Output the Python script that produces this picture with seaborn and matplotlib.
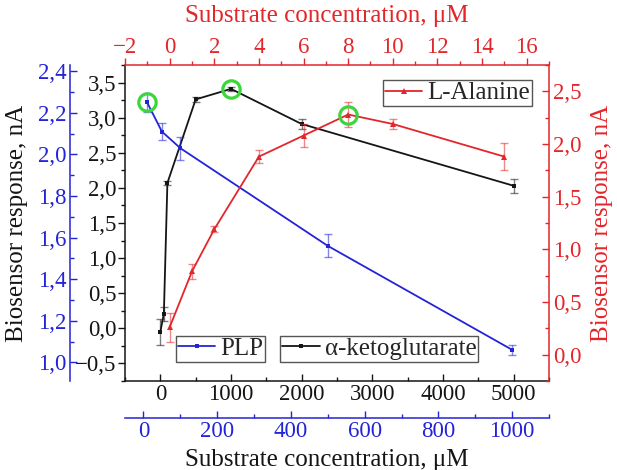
import numpy as np
import pandas as pd
import matplotlib
matplotlib.use("Agg")
import matplotlib.pyplot as plt
import seaborn as sns
from matplotlib.ticker import MultipleLocator, FuncFormatter

# ---------------- data ----------------
plp_conc = [10, 50, 100, 500, 1000]
plp_resp = [2.25, 2.11, 2.03, 1.56, 1.06]
plp_err = [0.045, 0.04, 0.055, 0.055, 0.025]

akg_conc = [0, 50, 100, 500, 1000, 2000, 5000]
akg_resp = [-0.05, 0.21, 2.07, 3.26, 3.41, 2.91, 2.03]
akg_err = [0.19, 0.10, 0.03, 0.03, 0.03, 0.07, 0.10]

ala_conc = [0, 1, 2, 4, 6, 8, 10, 15]
ala_resp = [0.26, 0.79, 1.19, 1.88, 2.08, 2.28, 2.19, 1.88]
ala_err = [0.14, 0.07, 0.03, 0.06, 0.11, 0.12, 0.05, 0.13]

plp_opt = 0
akg_opt = 4
ala_opt = 5

series_names = ["PLP", "α-ketoglutarate", "L-Alanine"]
axis_label_x = "Substrate concentration, μM"
axis_label_y = "Biosensor response, nA"

# ---------------- style ----------------
sns.set_style("ticks")
plt.rcParams["font.family"] = ["Liberation Serif", "DejaVu Serif"]
plt.rcParams["axes.unicode_minus"] = True

BLUE = "#2323d8"
RED = "#e3262b"
BLACK = "#151515"
GREEN = "#3cd63c"
TICK = 16.5
LABEL = 18
LEG = 18

W, H = 617, 470
fig = plt.figure(figsize=(W / 100, H / 100), dpi=100)
pos = [125 / W, 1 - 381 / H, 424 / W, 316 / H]

ax = fig.add_axes(pos)          # black: bottom / left
axb = fig.add_axes(pos)         # blue: offset bottom / offset left
axr = fig.add_axes(pos)         # red: top / right
for a in (axb, axr):
    a.patch.set_visible(False)

def comma(fmt):
    return FuncFormatter(lambda v, p: (fmt % v).replace(".", ",").replace("-", "\u2212"))

px = 0.72  # points per pixel

# ---- black axes ----
df_akg = pd.DataFrame({"conc": akg_conc, "resp": akg_resp})
sns.lineplot(data=df_akg, x="conc", y="resp", ax=ax, color=BLACK, marker="s",
             markersize=3.5, markeredgewidth=0, linewidth=1.3, errorbar=None,
             sort=False, legend=False)
akg_line = ax.lines[-1]
ax.errorbar(akg_conc, akg_resp, yerr=akg_err, fmt="none", ecolor=BLACK, alpha=0.55,
            elinewidth=1, capsize=2.8, capthick=1)
ax.plot(akg_conc[akg_opt], akg_resp[akg_opt], "o", ms=12.5, mfc="none", mec=GREEN,
        mew=2.3, clip_on=False, zorder=5)
ax.set_xlim(-500, 5500)
ax.set_ylim(-0.75, 3.75)
ax.xaxis.set_major_locator(MultipleLocator(1000))
ax.xaxis.set_minor_locator(MultipleLocator(500))
ax.yaxis.set_major_locator(MultipleLocator(0.5))
ax.yaxis.set_minor_locator(MultipleLocator(0.25))
ax.yaxis.set_major_formatter(comma("%.1f"))
ax.xaxis.set_major_formatter(comma("%d"))
ax.spines["top"].set_visible(False)
ax.spines["right"].set_visible(False)
for s in ("left", "bottom"):
    ax.spines[s].set_color(BLACK)
    ax.spines[s].set_linewidth(1.1)
ax.tick_params(axis="y", which="both", direction="out", left=True, right=False,
               colors=BLACK, labelsize=TICK, pad=1, width=1)
ax.tick_params(axis="y", which="major", length=5)
ax.tick_params(axis="y", which="minor", length=3)
ax.tick_params(axis="x", which="both", direction="in", bottom=True, top=False,
               colors=BLACK, labelsize=TICK, pad=2.5, width=1)
ax.tick_params(axis="x", which="major", length=5)
ax.tick_params(axis="x", which="minor", length=3)
ax.set_xlabel(axis_label_x, fontsize=LABEL, color=BLACK)
ax.set_ylabel(axis_label_y, fontsize=LABEL, color=BLACK)
ax.xaxis.set_label_coords(0.475, -0.215)
ax.yaxis.set_label_coords(-0.228, 0.5)

# ---- blue axes ----
df_plp = pd.DataFrame({"conc": plp_conc, "resp": plp_resp})
sns.lineplot(data=df_plp, x="conc", y="resp", ax=axb, color=BLUE, marker="s",
             markersize=3.5, markeredgewidth=0, linewidth=1.3, errorbar=None,
             sort=False, legend=False)
plp_line = axb.lines[-1]
axb.errorbar(plp_conc, plp_resp, yerr=plp_err, fmt="none", ecolor=BLUE, alpha=0.55,
             elinewidth=1, capsize=2.8, capthick=1)
axb.plot(plp_conc[plp_opt], plp_resp[plp_opt], "o", ms=12.5, mfc="none", mec=GREEN,
         mew=2.3, clip_on=False, zorder=5)
axb.set_xlim(-50, 1100)
axb.set_ylim(0.91, 2.43)
axb.xaxis.set_major_locator(MultipleLocator(200))
axb.xaxis.set_minor_locator(MultipleLocator(100))
axb.yaxis.set_major_locator(MultipleLocator(0.2))
axb.yaxis.set_minor_locator(MultipleLocator(0.1))
axb.yaxis.set_major_formatter(comma("%.1f"))
axb.xaxis.set_major_formatter(comma("%d"))
axb.spines["top"].set_visible(False)
axb.spines["right"].set_visible(False)
axb.spines["left"].set_position(("outward", 55 * px))
axb.spines["bottom"].set_position(("outward", 37 * px))
for s in ("left", "bottom"):
    axb.spines[s].set_color(BLUE)
    axb.spines[s].set_linewidth(1.1)
axb.tick_params(axis="y", which="both", direction="in", left=True, right=False,
                colors=BLUE, labelcolor=BLUE, labelsize=TICK, pad=2.5, width=1)
axb.tick_params(axis="y", which="major", length=5)
axb.tick_params(axis="y", which="minor", length=3)
axb.tick_params(axis="x", which="both", direction="in", bottom=True, top=False,
                colors=BLUE, labelcolor=BLUE, labelsize=TICK, pad=2, width=1)
axb.tick_params(axis="x", which="major", length=5)
axb.tick_params(axis="x", which="minor", length=3)
axb.set_xlabel("")
axb.set_ylabel("")

# ---- red axes ----
df_ala = pd.DataFrame({"conc": ala_conc, "resp": ala_resp})
sns.lineplot(data=df_ala, x="conc", y="resp", ax=axr, color=RED, marker="^",
             markersize=4.5, markeredgewidth=0, linewidth=1.3, errorbar=None,
             sort=False, legend=False)
ala_line = axr.lines[-1]
axr.errorbar(ala_conc, ala_resp, yerr=ala_err, fmt="none", ecolor=RED, alpha=0.55,
             elinewidth=1, capsize=2.8, capthick=1)
axr.plot(ala_conc[ala_opt], ala_resp[ala_opt], "o", ms=12.5, mfc="none", mec=GREEN,
         mew=2.3, clip_on=False, zorder=5)
axr.set_xlim(-2, 17)
axr.set_ylim(-0.25, 2.75)
axr.xaxis.tick_top()
axr.yaxis.tick_right()
axr.xaxis.set_label_position("top")
axr.yaxis.set_label_position("right")
axr.xaxis.set_major_locator(MultipleLocator(2))
axr.xaxis.set_minor_locator(MultipleLocator(1))
axr.yaxis.set_major_locator(MultipleLocator(0.5))
axr.yaxis.set_minor_locator(MultipleLocator(0.25))
axr.yaxis.set_major_formatter(comma("%.1f"))
axr.xaxis.set_major_formatter(comma("%d"))
axr.spines["left"].set_visible(False)
axr.spines["bottom"].set_visible(False)
for s in ("top", "right"):
    axr.spines[s].set_color(RED)
    axr.spines[s].set_linewidth(1.1)
axr.tick_params(axis="x", which="both", direction="out", top=True, bottom=False,
                colors=RED, labelcolor=RED, labelsize=TICK, pad=0, width=1)
axr.tick_params(axis="x", which="major", length=5)
axr.tick_params(axis="x", which="minor", length=3)
axr.tick_params(axis="y", which="both", direction="in", right=True, left=False,
                colors=RED, labelcolor=RED, labelsize=TICK, pad=3, width=1)
axr.tick_params(axis="y", which="major", length=5)
axr.tick_params(axis="y", which="minor", length=3)
axr.set_xlabel(axis_label_x, fontsize=LABEL, color=RED)
axr.set_ylabel(axis_label_y, fontsize=LABEL, color=RED)
axr.xaxis.set_label_coords(0.475, 1.135)
axr.yaxis.set_label_coords(1.1, 0.5)

# ---- legends ----
legkw = dict(fontsize=LEG, frameon=True, fancybox=False, edgecolor="#555555",
             framealpha=1, borderpad=0.08, handlelength=1.5, handletextpad=0.2,
             borderaxespad=0, numpoints=1)
l1 = axr.legend([plp_line], [series_names[0]], loc="lower left",
                bbox_to_anchor=(0.120, 0.060), **legkw)
axr.add_artist(l1)
l2 = axr.legend([akg_line], [series_names[1]], loc="lower left",
                bbox_to_anchor=(0.366, 0.060), **legkw)
axr.add_artist(l2)
l3 = axr.legend([ala_line], [series_names[2]], loc="upper right",
                bbox_to_anchor=(0.960, 0.953), **legkw)
for lg in (l1, l2, l3):
    lg.get_frame().set_linewidth(1.0)

fig.savefig("out.png", dpi=100)
